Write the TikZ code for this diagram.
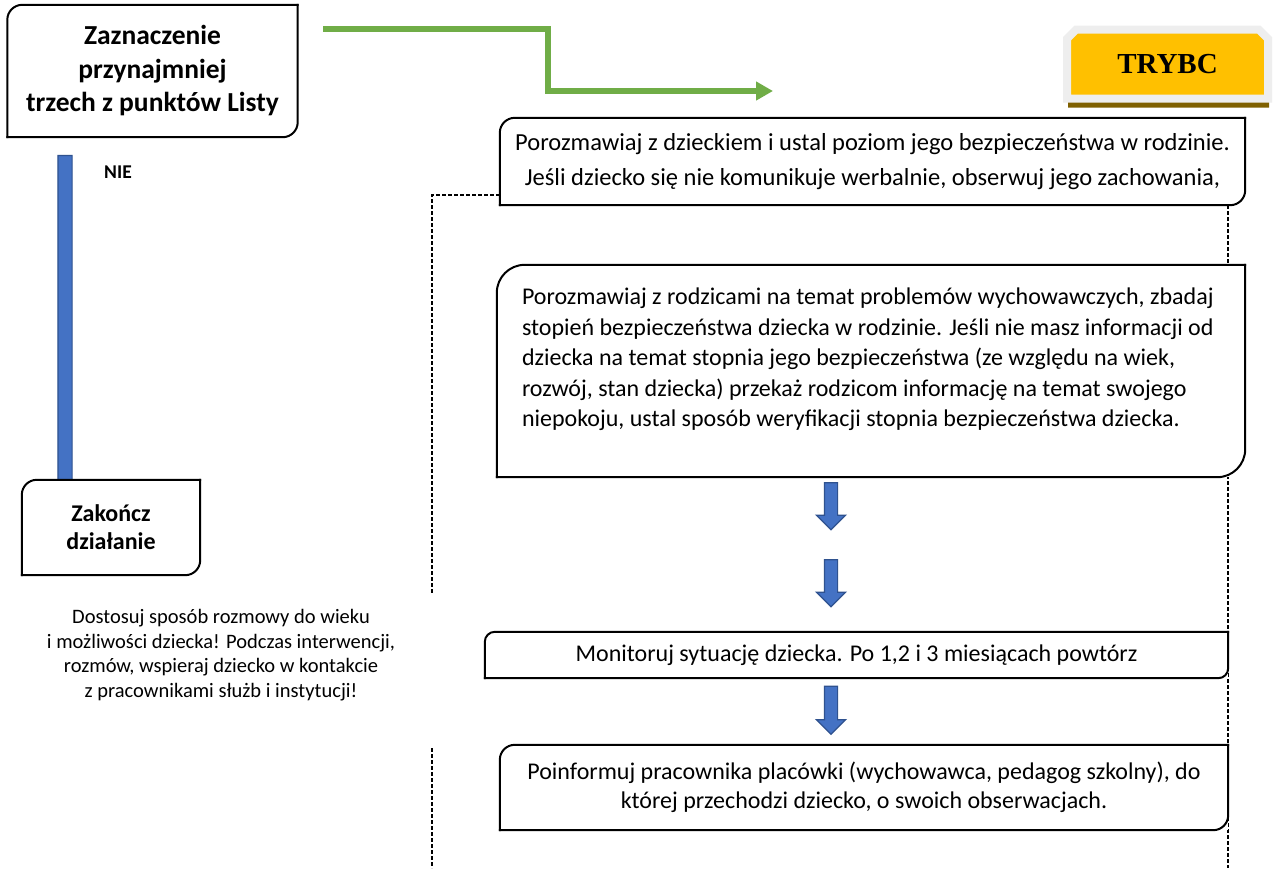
\documentclass[tikz,border=0pt]{standalone}
\usepackage{fontspec}
\setmainfont{Carlito}
\newfontfamily\trybfont{Liberation Serif}
\usetikzlibrary{arrows.meta,shapes.arrows,shapes.misc,shadows,backgrounds}

\definecolor{flowgreen}{HTML}{70AD47}
\definecolor{flowblue}{HTML}{4472C4}
\definecolor{flowblueedge}{HTML}{2F528F}
\definecolor{trybgold}{HTML}{FFC000}
\definecolor{trybshadow}{HTML}{7F6000}
\definecolor{trybedge}{HTML}{EEEEEE}

\begin{document}
\begin{tikzpicture}[x=1pt, y=-1pt,
	box/.style={fill=white, inner sep=0pt, align=center, font=\fontsize{24}{29}\selectfont},
	boldbox/.style={box, font=\bfseries\fontsize{24}{28}\selectfont},
	boxline/.style={line width=2pt, line cap=rect, line join=round},
	dashline/.style={line width=1.3pt, dash pattern=on 4pt off 2pt},
	blockarrow/.style={single arrow, shape border rotate=270, fill=flowblue, draw=flowblueedge, line width=1.2pt, inner sep=6pt, single arrow head extend=8pt, single arrow head indent=0pt, minimum height=#1},
	greenarrow/.style={flowgreen, line width=5.5pt, line join=miter, -{Triangle[width=18pt,length=17pt]}},
	trybc/.style={chamfered rectangle, chamfered rectangle corners={north west,north east}, chamfered rectangle xsep=6pt, fill=trybgold, draw=trybedge, line width=8pt, minimum width=201pt, minimum height=69pt, inner sep=0pt, font=\trybfont\bfseries\fontsize{29}{34}\selectfont, drop shadow={fill=trybshadow, opacity=1, shadow xshift=1pt, shadow yshift=-9pt}}]

	\useasboundingbox (0,0) rectangle (1274,868);

	\node[blockarrow=340pt, inner sep=6.5pt, single arrow head extend=6.5pt] (nobar) at (65,322) {};

	\node[boldbox, font=\bfseries\fontsize{27.5}{33.5}\selectfont, minimum width=290pt, minimum height=132pt] (start) at (152.5,71) {Zaznaczenie\\przynajmniej\\trzech z punktów Listy};
	\node[boldbox, minimum width=178pt, minimum height=95pt] (stop) at (111,527.5) {Zakończ\\działanie};
	\node[font=\bfseries\fontsize{19.5}{23}\selectfont] (nie) at (118,172) {NIE};

	\node[box, font=\fontsize{24.5}{35}\selectfont, minimum width=745pt, minimum height=87pt] (talk) at (872.5,161.5) {Porozmawiaj z dzieckiem i ustal poziom jego bezpieczeństwa w rodzinie.\\ Jeśli dziecko się nie komunikuje werbalnie, obserwuj jego zachowania,};
	\node[box, inner xsep=25pt, inner ysep=23pt] (parents) at (871,371) {\parbox[c][166pt][t]{698pt}{\raggedright\fontsize{24}{30.5}\selectfont Porozmawiaj z rodzicami na temat problemów wychowawczych, zbadaj\\ stopień bezpieczeństwa dziecka w rodzinie. Jeśli nie masz informacji od\\ dziecka na temat stopnia jego bezpieczeństwa (ze względu na wiek,\\ rozwój, stan dziecka) przekaż rodzicom informację na temat swojego\\ niepokoju, ustal sposób weryfikacji stopnia bezpieczeństwa dziecka.}};
	\node[box, minimum width=743pt, minimum height=46pt] (monitor) at (856.5,655) {Monitoruj sytuację dziecka. Po 1,2 i 3 miesiącach powtórz};
	\node[box, minimum width=728pt, minimum height=85pt] (inform) at (864,787.5) {Poinformuj pracownika placówki (wychowawca, pedagog szkolny), do\\ której przechodzi dziecko, o swoich obserwacjach.};

	\node[align=center, font=\fontsize{20.5}{24.5}\selectfont] (note) at (221,655) {Dostosuj sposób rozmowy do wieku\\ i możliwości dziecka! Podczas interwencji,\\ rozmów, wspieraj dziecko w kontakcie\\ z pracownikami służb i instytucji!};

	\node[trybc] (tryb) at (1167.5,64) {TRYBC};

	\draw[boxline, rounded corners=15pt] (start.south west) -- (start.north west) -- (start.north east);
	\draw[boxline, rounded corners=15pt] (start.north east) -- (start.south east) -- (start.south west);
	\draw[boxline, rounded corners=15pt] (stop.south west) -- (stop.north west) -- (stop.north east);
	\draw[boxline, rounded corners=15pt] (stop.north east) -- (stop.south east) -- (stop.south west);
	\draw[boxline, rounded corners=15pt] (talk.south west) -- (talk.north west) -- (talk.north east);
	\draw[boxline, rounded corners=15pt] (talk.north east) -- (talk.south east) -- (talk.south west);
	\draw[boxline, rounded corners=28pt] (parents.south west) -- (parents.north west) -- (parents.north east);
	\draw[boxline, rounded corners=28pt] (parents.north east) -- (parents.south east) -- (parents.south west);
	\draw[boxline, rounded corners=10pt] (monitor.south west) -- (monitor.north west) -- (monitor.north east);
	\draw[boxline, rounded corners=10pt] (monitor.north east) -- (monitor.south east) -- (monitor.south west);
	\draw[boxline, rounded corners=15pt] (inform.south west) -- (inform.north west) -- (inform.north east);
	\draw[boxline, rounded corners=15pt] (inform.north east) -- (inform.south east) -- (inform.south west);

	\node[blockarrow=47pt] (arr1) at (831,503) {};
	\node[blockarrow=47pt] (arr2) at (831,580) {};
	\node[blockarrow=48pt] (arr3) at (831,707) {};

	\coordinate (gfrom) at (323,29);
	\coordinate (gto) at (773,91);
	\draw[greenarrow] (gfrom) -- (548,29) |- (gto);

	\coordinate (dl1) at (432,195);
	\coordinate (dl2) at (432,595);
	\coordinate (dl3) at (432,748);
	\coordinate (dl4) at (432,868);
	\coordinate (dr1) at (1228,205);
	\coordinate (dr2) at (1228,868);

	\begin{scope}[on background layer]
		\fill[white] (0,0) rectangle (1274,868);
		\draw[dashline] (talk.west |- dl1) -- (dl1) -- (dl2);
		\draw[dashline] (dl3) -- (dl4);
		\draw[dashline] (dr1) -- (dr2);
	\end{scope}
\end{tikzpicture}
\end{document}
